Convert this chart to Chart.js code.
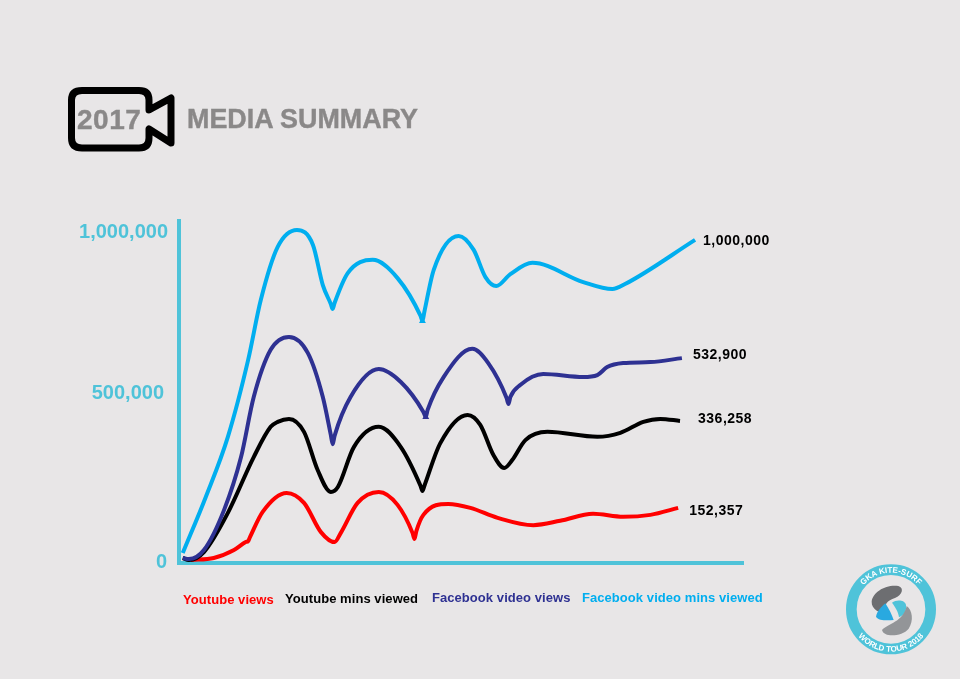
<!DOCTYPE html>
<html>
<head>
<meta charset="utf-8">
<title>2017 Media Summary</title>
<script src="https://cdn.jsdelivr.net/npm/chart.js@4/dist/chart.umd.min.js"></script>
<style>
    html, body { margin: 0; padding: 0; background: #e8e6e7; }
    #wrap { position: relative; width: 960px; height: 679px; overflow: hidden; font-family: "Liberation Sans", Arial, sans-serif; font-weight: bold; }
    #chart { position: absolute; left: 0; top: 0; }
    .abs { position: absolute; white-space: nowrap; line-height: 1; }
    .heading { color: #8a8888; top: 106px; -webkit-text-stroke: 0.4px #8a8888; }
    .legend-item { font-size: 13px; letter-spacing: 0.06px; }
    svg { position: absolute; }
</style>
</head>
<body>
<div id="wrap">
    <canvas id="chart" width="960" height="679"></canvas>

    <!-- camera icon -->
    <svg style="left:60px;top:80px" width="125" height="80" viewBox="60 80 125 80">
        <path d="M82 90.5 H139 Q149 90.5 149 100 V110 L171 98 V143 L149 129 V138 Q149 148 139 148 H82 Q71.500 148 71.500 138 V100 Q71.500 90.500 82 90.500 Z"
              fill="none" stroke="#000" stroke-width="7" stroke-linejoin="round"/>
    </svg>
    <div class="abs heading" style="left:77px;font-size:28px;letter-spacing:.5px">2017</div>
    <div class="abs heading" style="left:187px;font-size:26.9px">MEDIA SUMMARY</div>

    <div id="legend"></div>

    <!-- GKA logo -->
    <svg style="left:830px;top:560px" width="120" height="110" viewBox="0 0 360 330">
        <circle cx="183" cy="148" r="119" fill="none" stroke="#4fc3d9" stroke-width="32"/>
        <path d="M125 125 C128 95 170 72 205 78 C224 84 216 106 195 114 C172 122 160 132 167 160 C150 160 124 148 125 125 Z" fill="#6d6e71"/>
        <path d="M138 170 C140 155 155 140 166 130 C176 145 186 165 191 180 C170 182 145 182 138 170 Z" fill="#29a9e0"/>
        <path d="M186 128 C200 118 225 120 228 135 C230 150 225 165 207 172 C205 155 195 140 186 128 Z" fill="#4fc3d9"/>
        <path d="M156 210 C175 190 218 187 230 138 C247 150 252 182 236 206 C216 230 162 234 156 210 Z" fill="#939598"/>
        <defs>
            <path id="arcTop" d="M73 148 A110 110 0 0 1 293 148"/>
            <path id="arcBottom" d="M56 148 A127 127 0 0 0 310 148"/>
        </defs>
        <text font-size="24" fill="#fff" font-family="Liberation Sans" font-weight="bold" text-anchor="middle"><textPath href="#arcTop" startOffset="50%">GKA KITE-SURF</textPath></text>
        <text font-size="24" fill="#fff" font-family="Liberation Sans" font-weight="bold" text-anchor="middle"><textPath href="#arcBottom" startOffset="50%">WORLD TOUR 2018</textPath></text>
    </svg>
</div>

<script>
// values. x is months into the year, points packed close together are the sharp dips
const fbMinsX = [0.08, 0.57, 1.04, 1.47, 1.74, 2.10, 2.51, 2.85, 3.06, 3.23, 3.27, 3.31, 3.59, 4.12, 4.65, 5.14, 5.18, 5.22, 5.42, 5.95, 6.27, 6.52, 6.75, 7.05, 7.52, 8.60, 9.22, 9.49, 10.98];
const fbMins = [30000, 199000, 380000, 611000, 792000, 952000, 1003000, 958000, 837000, 780000, 765000, 783000, 873000, 913000, 858000, 744000, 729000, 756000, 883000, 985000, 943000, 861000, 834000, 870000, 904000, 846000, 825000, 840000, 973000];

const fbViewsX = [0.08, 0.21, 0.53, 0.96, 1.32, 1.59, 1.95, 2.34, 2.74, 3.06, 3.23, 3.27, 3.31, 3.65, 4.25, 4.72, 5.20, 5.25, 5.29, 5.63, 6.24, 6.58, 6.97, 7.01, 7.05, 7.26, 7.75, 8.60, 8.90, 9.11, 9.45, 10.03, 10.70];
const fbViews = [15000, 12000, 39000, 160000, 319000, 500000, 642000, 681000, 633000, 500000, 386000, 358000, 383000, 500000, 584000, 545000, 455000, 440000, 461000, 560000, 645000, 602000, 497000, 479000, 500000, 536000, 569000, 560000, 566000, 590000, 602000, 605000, 617000];

const ytMinsX = [0.08, 0.21, 0.53, 1.04, 1.59, 1.95, 2.10, 2.34, 2.66, 2.95, 3.23, 3.38, 3.72, 4.25, 4.72, 5.14, 5.18, 5.22, 5.56, 6.14, 6.41, 6.69, 6.92, 7.09, 7.37, 7.84, 8.90, 9.39, 9.88, 10.24, 10.66];
const ytMins = [15000, 9000, 33000, 151000, 319000, 410000, 425000, 434000, 395000, 280000, 214000, 229000, 349000, 410000, 349000, 232000, 217000, 232000, 361000, 446000, 416000, 325000, 286000, 310000, 370000, 395000, 380000, 392000, 425000, 434000, 428000];

const ytViewsX = [0.25, 0.74, 1.17, 1.42, 1.47, 1.51, 1.78, 2.29, 2.66, 3.02, 3.31, 3.44, 3.80, 4.25, 4.65, 4.97, 5.01, 5.05, 5.20, 5.73, 6.20, 6.78, 7.54, 8.11, 8.81, 9.45, 10.03, 10.62];
const ytViews = [9000, 15000, 39000, 63000, 66000, 78000, 154000, 211000, 181000, 93000, 63000, 90000, 181000, 214000, 175000, 90000, 72000, 96000, 145000, 178000, 166000, 136000, 114000, 127000, 148000, 139000, 145000, 166000];

const seriesNames = ['Youtube views', 'Youtube mins viewed', 'Facebook video views', 'Facebook video mins viewed'];
const seriesColors = ['#ff0000', '#000000', '#2e3192', '#00aeef'];
const endLabels = ['152,357', '336,258', '532,900', '1,000,000'];
const yTicks = [0, 500000, 1000000];

const axisColor = '#4fc3d9';

// legend sits loose under the chart, each name a little higher than the one before
const legendLeft = [183, 285, 432, 582];
const legendTop = [593, 592, 591, 591];
seriesNames.forEach(function (name, i) {
    const el = document.createElement('div');
    el.className = 'abs legend-item';
    el.textContent = name;
    el.style.left = legendLeft[i] + 'px';
    el.style.top = legendTop[i] + 'px';
    el.style.color = seriesColors[i];
    document.getElementById('legend').appendChild(el);
});

function toPoints(xs, ys) {
    return xs.map(function (x, i) { return { x: x, y: ys[i] }; });
}

function lineSet(idx, xs, ys, blobAt) {
    return {
        label: seriesNames[idx],
        data: toPoints(xs, ys),
        borderColor: seriesColors[idx],
        backgroundColor: seriesColors[idx],
        borderWidth: 4,
        cubicInterpolationMode: 'monotone',
        fill: false,
        clip: false,
        pointStyle: 'triangle',
        pointBorderWidth: 0,
        pointRadius: function (ctx) { return ctx.dataIndex === blobAt ? 4 : 0; },
        pointHoverRadius: 0
    };
}

// offsets of the end labels from the last point of each line
const labelDx = [11, 18, 11, 8];
const labelDy = [3, -2, -3, 1];

const endLabelPlugin = {
    id: 'endLabels',
    afterDatasetsDraw: function (chart) {
        const ctx = chart.ctx;
        ctx.save();
        ctx.font = 'bold 14px "Liberation Sans"';
        ctx.letterSpacing = '0.5px';
        ctx.fillStyle = '#000';
        ctx.textBaseline = 'middle';
        chart.data.datasets.forEach(function (ds, d) {
            const idx = seriesNames.indexOf(ds.label);
            const pts = chart.getDatasetMeta(d).data;
            const last = pts[pts.length - 1];
            ctx.fillText(endLabels[idx], last.x + labelDx[idx], last.y + labelDy[idx]);
        });
        ctx.restore();
    }
};

// the axis labels are not quite evenly placed in the original
const yLabelNudgeX = [-1, -4, 0];
const yLabelNudgeY = [0, -2, 3];
const yLabelPlugin = {
    id: 'yLabelNudge',
    beforeDraw: function (chart) {
        if (chart.$nudged) return;
        chart.$nudged = true;
        chart.scales.y.getLabelItems().forEach(function (item, i) {
            item.options.translation[0] += yLabelNudgeX[i];
            item.options.translation[1] += yLabelNudgeY[i];
        });
    }
};

new Chart(document.getElementById('chart'), {
    type: 'line',
    data: {
        // first one here ends up on top
        datasets: [
            lineSet(3, fbMinsX, fbMins, 16),
            lineSet(2, fbViewsX, fbViews, 17),
            lineSet(1, ytMinsX, ytMins, -1),
            lineSet(0, ytViewsX, ytViews, -1)
        ]
    },
    options: {
        responsive: false,
        animation: false,
        layout: { padding: { top: 221, right: 217, bottom: 116, left: 0 } },
        plugins: { legend: { display: false }, tooltip: { enabled: false } },
        scales: {
            x: {
                type: 'linear',
                min: 0,
                max: 12,
                grid: { display: false },
                border: { color: axisColor, width: 4 },
                ticks: { display: false },
                afterFit: function (scale) { scale.height = 0; }
            },
            y: {
                min: 0,
                max: 1030000,
                afterBuildTicks: function (scale) {
                    scale.ticks = yTicks.map(function (v) { return { value: v }; });
                },
                afterFit: function (scale) { scale.width = 179; },
                grid: { display: false },
                border: { color: axisColor, width: 4 },
                ticks: {
                    color: axisColor,
                    padding: 3,
                    labelOffset: -1,
                    font: { family: 'Liberation Sans', weight: 'bold', size: 20 },
                    callback: function (v) { return v.toLocaleString('en-US'); }
                }
            }
        }
    },
    plugins: [endLabelPlugin, yLabelPlugin]
});
</script>
</body>
</html>
